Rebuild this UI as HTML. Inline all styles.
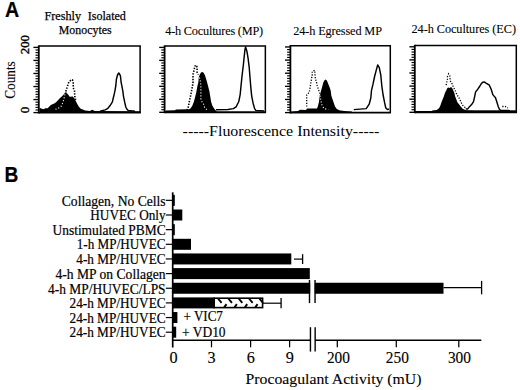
<!DOCTYPE html>
<html><head><meta charset="utf-8"><title>Figure</title>
<style>
html,body{margin:0;padding:0;background:#fff;}
body{width:520px;height:390px;overflow:hidden;font-family:"Liberation Serif",serif;}
svg{display:block;}
</style></head>
<body>
<svg width="520" height="390" viewBox="0 0 520 390">
<rect x="0" y="0" width="520" height="390" fill="#fff"/>
<text x="5" y="16.9" font-size="21.5" text-anchor="start" font-family="'Liberation Sans', sans-serif" font-weight="bold" textLength="14.2" lengthAdjust="spacingAndGlyphs" stroke="#000" stroke-width="0.2">A</text>
<text x="44.4" y="19.6" font-size="13.3" text-anchor="start" font-family="'Liberation Serif', serif" font-weight="normal" textLength="36.6" lengthAdjust="spacingAndGlyphs" stroke="#000" stroke-width="0.25">Freshly</text>
<text x="87.7" y="19.6" font-size="13.3" text-anchor="start" font-family="'Liberation Serif', serif" font-weight="normal" textLength="38.2" lengthAdjust="spacingAndGlyphs" stroke="#000" stroke-width="0.25">Isolated</text>
<text x="58.8" y="33.6" font-size="13.3" text-anchor="start" font-family="'Liberation Serif', serif" font-weight="normal" textLength="52.8" lengthAdjust="spacingAndGlyphs" stroke="#000" stroke-width="0.25">Monocytes</text>
<text x="165.2" y="35.4" font-size="12.3" text-anchor="start" font-family="'Liberation Serif', serif" font-weight="normal" textLength="98" lengthAdjust="spacing" stroke="#000" stroke-width="0.08">4-h Cocultures (MP)</text>
<text x="293.2" y="34.6" font-size="12.3" text-anchor="start" font-family="'Liberation Serif', serif" font-weight="normal" textLength="88.8" lengthAdjust="spacing" stroke="#000" stroke-width="0.08">24-h Egressed MP</text>
<text x="411.5" y="33" font-size="12.3" text-anchor="start" font-family="'Liberation Serif', serif" font-weight="normal" textLength="104.5" lengthAdjust="spacing" stroke="#000" stroke-width="0.08">24-h Cocultures (EC)</text>
<polygon points="39.5,112.5 39.5,107.7 41.8,108.7 43.8,109.2 45.2,108.2 47.6,108.2 49.1,106.75 50.5,105.3 52.4,104.3 54.3,103.4 56.3,102 58.2,100 60.1,98.1 62,96.2 63.5,94.7 64.9,92.8 65.9,91.6 66.8,93.3 68.3,94.7 69.7,96.7 71.2,96.7 72.1,96.2 73.1,97.1 74.5,98.6 76,101.5 77.4,104.3 78.9,106.75 80.8,108.7 82.7,109.6 85.1,110.6 90,110.9 92,109.8 95,110.9 140,111.3 140,112.5" fill="#000"/>
<polyline points="65.8,91.4 64.8,95 63.6,100 62.4,103.5 61.1,106.3 59,107.8 56.75,108.9 54,109.8" fill="none" stroke="#fff" stroke-width="1.1" stroke-dasharray="1.1 1.9"/>
<polyline points="65.8,91.4 66.4,89.4 67.5,86.2 68.2,83.6 69.4,81.4 71,80.1 72.4,79.8 73.2,81.6 73.2,85.3 73.5,88.5 74.5,90.8 74.7,94 74.9,97 75.6,100" fill="none" stroke="#000" stroke-width="1.6" stroke-dasharray="1.4 1.4"/>
<polyline points="100,111.3 105.2,109.9 107.5,108.7 109.9,105.8 112.3,102.2 113.4,97.5 114.4,93.4 115.2,89.3 115.8,85.7 116.4,79.2 117.5,75 118.75,73 119.8,74.5 120.5,76.3 121.1,82.2 122.3,88.1 122.9,91.6 123.5,96.3 124.7,102.2 125.8,107 127,109.3 128.2,110.5 135,111.2" fill="none" stroke="#000" stroke-width="1.45" stroke-linejoin="round"/>
<line x1="38.8" y1="46.1" x2="140.85" y2="46.1" stroke="#000" stroke-width="1.5"/>
<line x1="140.1" y1="46.1" x2="140.1" y2="112.6" stroke="#000" stroke-width="1.5"/>
<line x1="38.8" y1="112.6" x2="140.85" y2="112.6" stroke="#000" stroke-width="1.9"/>
<line x1="38.8" y1="45.4" x2="38.8" y2="113.5" stroke="#000" stroke-width="1.8"/>
<line x1="33.4" y1="47.4" x2="38.8" y2="47.4" stroke="#000" stroke-width="1.35"/>
<line x1="35.5" y1="50.01" x2="38.8" y2="50.01" stroke="#000" stroke-width="1.15"/>
<line x1="35.5" y1="52.62" x2="38.8" y2="52.62" stroke="#000" stroke-width="1.15"/>
<line x1="35.5" y1="55.22" x2="38.8" y2="55.22" stroke="#000" stroke-width="1.15"/>
<line x1="35.5" y1="57.83" x2="38.8" y2="57.83" stroke="#000" stroke-width="1.15"/>
<line x1="33.4" y1="60.44" x2="38.8" y2="60.44" stroke="#000" stroke-width="1.35"/>
<line x1="35.5" y1="63.05" x2="38.8" y2="63.05" stroke="#000" stroke-width="1.15"/>
<line x1="35.5" y1="65.66" x2="38.8" y2="65.66" stroke="#000" stroke-width="1.15"/>
<line x1="35.5" y1="68.26" x2="38.8" y2="68.26" stroke="#000" stroke-width="1.15"/>
<line x1="35.5" y1="70.87" x2="38.8" y2="70.87" stroke="#000" stroke-width="1.15"/>
<line x1="33.4" y1="73.48" x2="38.8" y2="73.48" stroke="#000" stroke-width="1.35"/>
<line x1="35.5" y1="76.09" x2="38.8" y2="76.09" stroke="#000" stroke-width="1.15"/>
<line x1="35.5" y1="78.7" x2="38.8" y2="78.7" stroke="#000" stroke-width="1.15"/>
<line x1="35.5" y1="81.3" x2="38.8" y2="81.3" stroke="#000" stroke-width="1.15"/>
<line x1="35.5" y1="83.91" x2="38.8" y2="83.91" stroke="#000" stroke-width="1.15"/>
<line x1="33.4" y1="86.52" x2="38.8" y2="86.52" stroke="#000" stroke-width="1.35"/>
<line x1="35.5" y1="89.13" x2="38.8" y2="89.13" stroke="#000" stroke-width="1.15"/>
<line x1="35.5" y1="91.74" x2="38.8" y2="91.74" stroke="#000" stroke-width="1.15"/>
<line x1="35.5" y1="94.34" x2="38.8" y2="94.34" stroke="#000" stroke-width="1.15"/>
<line x1="35.5" y1="96.95" x2="38.8" y2="96.95" stroke="#000" stroke-width="1.15"/>
<line x1="33.4" y1="99.56" x2="38.8" y2="99.56" stroke="#000" stroke-width="1.35"/>
<line x1="35.5" y1="102.17" x2="38.8" y2="102.17" stroke="#000" stroke-width="1.15"/>
<line x1="35.5" y1="104.78" x2="38.8" y2="104.78" stroke="#000" stroke-width="1.15"/>
<line x1="35.5" y1="107.38" x2="38.8" y2="107.38" stroke="#000" stroke-width="1.15"/>
<line x1="35.5" y1="109.99" x2="38.8" y2="109.99" stroke="#000" stroke-width="1.15"/>
<line x1="33.4" y1="112.6" x2="38.8" y2="112.6" stroke="#000" stroke-width="1.35"/>
<polygon points="165.5,112.3 165.5,110.6 175,110.3 176,109.4 187,109.2 189,109.2 190.7,108.2 192.3,105.8 193.9,101.7 195.2,96.8 196.4,91.8 197.2,86.9 198.4,82 198.8,77 199.8,74.5 201,72.6 202.3,72.1 203.6,72.8 204.8,75 206,78.5 207,82 208.3,86.9 209.5,91.8 210.3,96.8 211.1,101.7 212.4,105.8 214.4,109 216,110.7 217,112.3" fill="#000"/>
<polyline points="198.4,74.7 199.6,78 200.5,82 200.9,86 200.9,90 200.9,94.3 200.9,99.6 202.1,102 203.8,104.5 204.6,107.4 207.5,110.3" fill="none" stroke="#fff" stroke-width="1.1" stroke-dasharray="1.1 1.9"/>
<polyline points="187,110.3 188.6,106.2 189,103.3 189.8,99.2 190.7,95.1 191.5,91 192.3,86.9 193,83 193,78.9 193,74.5 194,70.5 194.5,68 195.5,65.1 196.8,66.4 197.1,69.3 197.1,72.2 198.4,74.7" fill="none" stroke="#000" stroke-width="1.6" stroke-dasharray="1.4 1.4"/>
<polyline points="216,109.8 228,109.5 233.4,108.6 236.1,106.8 238.8,101.5 240.2,94.3 240.9,87.1 242,76.3 243.3,65.5 244.2,56.6 245,49.4 245.6,46.9 246.9,51.2 248.1,58.4 249.2,67.3 249.9,76.3 250.8,87.1 251.7,96.1 253.1,103.2 254.6,108.6 255.8,110.4 264,111" fill="none" stroke="#000" stroke-width="1.45" stroke-linejoin="round"/>
<line x1="164.6" y1="46.1" x2="266.1" y2="46.1" stroke="#000" stroke-width="1.5"/>
<line x1="265.35" y1="46.1" x2="265.35" y2="112.3" stroke="#000" stroke-width="1.5"/>
<line x1="164.6" y1="112.3" x2="266.1" y2="112.3" stroke="#000" stroke-width="1.9"/>
<line x1="164.6" y1="45.4" x2="164.6" y2="113.2" stroke="#000" stroke-width="1.8"/>
<line x1="159.2" y1="47.4" x2="164.6" y2="47.4" stroke="#000" stroke-width="1.35"/>
<line x1="161.3" y1="50" x2="164.6" y2="50" stroke="#000" stroke-width="1.15"/>
<line x1="161.3" y1="52.59" x2="164.6" y2="52.59" stroke="#000" stroke-width="1.15"/>
<line x1="161.3" y1="55.19" x2="164.6" y2="55.19" stroke="#000" stroke-width="1.15"/>
<line x1="161.3" y1="57.78" x2="164.6" y2="57.78" stroke="#000" stroke-width="1.15"/>
<line x1="159.2" y1="60.38" x2="164.6" y2="60.38" stroke="#000" stroke-width="1.35"/>
<line x1="161.3" y1="62.98" x2="164.6" y2="62.98" stroke="#000" stroke-width="1.15"/>
<line x1="161.3" y1="65.57" x2="164.6" y2="65.57" stroke="#000" stroke-width="1.15"/>
<line x1="161.3" y1="68.17" x2="164.6" y2="68.17" stroke="#000" stroke-width="1.15"/>
<line x1="161.3" y1="70.76" x2="164.6" y2="70.76" stroke="#000" stroke-width="1.15"/>
<line x1="159.2" y1="73.36" x2="164.6" y2="73.36" stroke="#000" stroke-width="1.35"/>
<line x1="161.3" y1="75.96" x2="164.6" y2="75.96" stroke="#000" stroke-width="1.15"/>
<line x1="161.3" y1="78.55" x2="164.6" y2="78.55" stroke="#000" stroke-width="1.15"/>
<line x1="161.3" y1="81.15" x2="164.6" y2="81.15" stroke="#000" stroke-width="1.15"/>
<line x1="161.3" y1="83.74" x2="164.6" y2="83.74" stroke="#000" stroke-width="1.15"/>
<line x1="159.2" y1="86.34" x2="164.6" y2="86.34" stroke="#000" stroke-width="1.35"/>
<line x1="161.3" y1="88.94" x2="164.6" y2="88.94" stroke="#000" stroke-width="1.15"/>
<line x1="161.3" y1="91.53" x2="164.6" y2="91.53" stroke="#000" stroke-width="1.15"/>
<line x1="161.3" y1="94.13" x2="164.6" y2="94.13" stroke="#000" stroke-width="1.15"/>
<line x1="161.3" y1="96.72" x2="164.6" y2="96.72" stroke="#000" stroke-width="1.15"/>
<line x1="159.2" y1="99.32" x2="164.6" y2="99.32" stroke="#000" stroke-width="1.35"/>
<line x1="161.3" y1="101.92" x2="164.6" y2="101.92" stroke="#000" stroke-width="1.15"/>
<line x1="161.3" y1="104.51" x2="164.6" y2="104.51" stroke="#000" stroke-width="1.15"/>
<line x1="161.3" y1="107.11" x2="164.6" y2="107.11" stroke="#000" stroke-width="1.15"/>
<line x1="161.3" y1="109.7" x2="164.6" y2="109.7" stroke="#000" stroke-width="1.15"/>
<line x1="159.2" y1="112.3" x2="164.6" y2="112.3" stroke="#000" stroke-width="1.35"/>
<polygon points="291,112.8 291,111.5 298,111 300,109.7 306,109.9 307,108.5 317,108.5 317.8,106.6 319,101.7 319.6,96.8 320.8,91.8 322.1,86.9 323.3,82.6 324.5,80.2 325.8,79.5 327,80.8 328.2,83.8 329.5,86.9 330.7,90.6 331.3,95.5 332.5,99.2 333.8,102.9 335,106.6 336.8,109.1 339.3,110.3 344.2,110.9 352,111.5 352,112.8" fill="#000"/>
<polyline points="320.2,95.5 320.9,100 321.4,104 323.9,108.5 328.2,109.7" fill="none" stroke="#fff" stroke-width="1.1" stroke-dasharray="1.1 1.9"/>
<polyline points="306.7,106.6 306.7,102.3 306.7,98.6 306.7,94.9 309.2,92.5 309.8,89.4 310.4,85.7 311,82 311.6,78.3 312.2,75.2 312.2,71.5 314.7,70.3 314.9,73.4 315.3,78.3 316.5,82 317.2,85.7 318.4,89.4 319.6,92.5 320.2,95.5" fill="none" stroke="#000" stroke-width="1.3" stroke-dasharray="1.2 1.5"/>
<polyline points="353.8,109.6 366.2,108.6 369.2,104.2 370.8,98 371.5,90.4 373,84.2 374.6,76.5 376.2,70.4 377.7,65 379.2,67.3 380.8,75 381.8,85.8 383.1,95 384.6,102.7 385.8,108 387.7,109.6 388.9,108.8" fill="none" stroke="#000" stroke-width="1.45" stroke-linejoin="round"/>
<line x1="290.4" y1="45.65" x2="391.05" y2="45.65" stroke="#000" stroke-width="1.5"/>
<line x1="390.3" y1="45.65" x2="390.3" y2="112.6" stroke="#000" stroke-width="1.5"/>
<line x1="290.4" y1="112.6" x2="391.05" y2="112.6" stroke="#000" stroke-width="1.9"/>
<line x1="290.4" y1="44.95" x2="290.4" y2="113.5" stroke="#000" stroke-width="1.8"/>
<line x1="285" y1="46.95" x2="290.4" y2="46.95" stroke="#000" stroke-width="1.35"/>
<line x1="287.1" y1="49.58" x2="290.4" y2="49.58" stroke="#000" stroke-width="1.15"/>
<line x1="287.1" y1="52.2" x2="290.4" y2="52.2" stroke="#000" stroke-width="1.15"/>
<line x1="287.1" y1="54.83" x2="290.4" y2="54.83" stroke="#000" stroke-width="1.15"/>
<line x1="287.1" y1="57.45" x2="290.4" y2="57.45" stroke="#000" stroke-width="1.15"/>
<line x1="285" y1="60.08" x2="290.4" y2="60.08" stroke="#000" stroke-width="1.35"/>
<line x1="287.1" y1="62.71" x2="290.4" y2="62.71" stroke="#000" stroke-width="1.15"/>
<line x1="287.1" y1="65.33" x2="290.4" y2="65.33" stroke="#000" stroke-width="1.15"/>
<line x1="287.1" y1="67.96" x2="290.4" y2="67.96" stroke="#000" stroke-width="1.15"/>
<line x1="287.1" y1="70.58" x2="290.4" y2="70.58" stroke="#000" stroke-width="1.15"/>
<line x1="285" y1="73.21" x2="290.4" y2="73.21" stroke="#000" stroke-width="1.35"/>
<line x1="287.1" y1="75.84" x2="290.4" y2="75.84" stroke="#000" stroke-width="1.15"/>
<line x1="287.1" y1="78.46" x2="290.4" y2="78.46" stroke="#000" stroke-width="1.15"/>
<line x1="287.1" y1="81.09" x2="290.4" y2="81.09" stroke="#000" stroke-width="1.15"/>
<line x1="287.1" y1="83.71" x2="290.4" y2="83.71" stroke="#000" stroke-width="1.15"/>
<line x1="285" y1="86.34" x2="290.4" y2="86.34" stroke="#000" stroke-width="1.35"/>
<line x1="287.1" y1="88.97" x2="290.4" y2="88.97" stroke="#000" stroke-width="1.15"/>
<line x1="287.1" y1="91.59" x2="290.4" y2="91.59" stroke="#000" stroke-width="1.15"/>
<line x1="287.1" y1="94.22" x2="290.4" y2="94.22" stroke="#000" stroke-width="1.15"/>
<line x1="287.1" y1="96.84" x2="290.4" y2="96.84" stroke="#000" stroke-width="1.15"/>
<line x1="285" y1="99.47" x2="290.4" y2="99.47" stroke="#000" stroke-width="1.35"/>
<line x1="287.1" y1="102.1" x2="290.4" y2="102.1" stroke="#000" stroke-width="1.15"/>
<line x1="287.1" y1="104.72" x2="290.4" y2="104.72" stroke="#000" stroke-width="1.15"/>
<line x1="287.1" y1="107.35" x2="290.4" y2="107.35" stroke="#000" stroke-width="1.15"/>
<line x1="287.1" y1="109.97" x2="290.4" y2="109.97" stroke="#000" stroke-width="1.15"/>
<line x1="285" y1="112.6" x2="290.4" y2="112.6" stroke="#000" stroke-width="1.35"/>
<polygon points="415.5,112.3 415.5,111 432.1,110.9 432.1,110.5 436.8,109.9 439.2,108.1 440.3,105.7 441.5,102.2 442.7,99.3 443.9,96.3 445,92.8 446.2,90.4 447.4,88 448.6,87.5 449.8,88 450.9,86.9 452.1,88 453.3,90.4 454.5,93.4 455.1,96.3 456.3,99.3 457.4,102.2 459.2,104.6 460.4,106.3 462.7,108.7 466.3,110.5 475,111 475,112.3" fill="#000"/>
<rect x="462" y="110.3" width="54.3" height="2" fill="#000"/>
<polyline points="446.2,85.1 446.8,82.2 447.4,79.8 447.4,76.8 448.6,73.9 449.8,75.7 450,78 450.4,81 452.1,83.9 453.3,86.9 455.1,90.4 456.3,93.4 458,96.3 459.8,99.3 461,102.2 462.7,105.1 465.1,107.5 466.9,108.7" fill="none" stroke="#000" stroke-width="1.3" stroke-dasharray="1.2 1.5"/>
<polyline points="502.3,106.5 505.1,106.5 508,108" fill="none" stroke="#000" stroke-width="1.3" stroke-dasharray="1.2 1.5"/>
<polyline points="465.6,108.9 467.5,109.1 469.7,106.4 471.8,104.3 473.5,101.6 474.5,97.3 475.6,91.9 477.8,89.2 479.9,86 481.5,83.3 483,82.2 484.2,81.9 486.4,83.3 489.1,84.9 491.2,89.2 492.8,94.6 495.5,97.8 497.1,102.7 498.2,106.4 499.3,109.1 500.5,110.2 510,110.6" fill="none" stroke="#000" stroke-width="1.45" stroke-linejoin="round"/>
<line x1="414.8" y1="45.5" x2="517.05" y2="45.5" stroke="#000" stroke-width="1.5"/>
<line x1="516.3" y1="45.5" x2="516.3" y2="112.3" stroke="#000" stroke-width="1.5"/>
<line x1="414.8" y1="112.3" x2="517.05" y2="112.3" stroke="#000" stroke-width="1.9"/>
<line x1="414.8" y1="44.8" x2="414.8" y2="113.2" stroke="#000" stroke-width="1.8"/>
<line x1="409.4" y1="46.8" x2="414.8" y2="46.8" stroke="#000" stroke-width="1.35"/>
<line x1="411.5" y1="49.42" x2="414.8" y2="49.42" stroke="#000" stroke-width="1.15"/>
<line x1="411.5" y1="52.04" x2="414.8" y2="52.04" stroke="#000" stroke-width="1.15"/>
<line x1="411.5" y1="54.66" x2="414.8" y2="54.66" stroke="#000" stroke-width="1.15"/>
<line x1="411.5" y1="57.28" x2="414.8" y2="57.28" stroke="#000" stroke-width="1.15"/>
<line x1="409.4" y1="59.9" x2="414.8" y2="59.9" stroke="#000" stroke-width="1.35"/>
<line x1="411.5" y1="62.52" x2="414.8" y2="62.52" stroke="#000" stroke-width="1.15"/>
<line x1="411.5" y1="65.14" x2="414.8" y2="65.14" stroke="#000" stroke-width="1.15"/>
<line x1="411.5" y1="67.76" x2="414.8" y2="67.76" stroke="#000" stroke-width="1.15"/>
<line x1="411.5" y1="70.38" x2="414.8" y2="70.38" stroke="#000" stroke-width="1.15"/>
<line x1="409.4" y1="73" x2="414.8" y2="73" stroke="#000" stroke-width="1.35"/>
<line x1="411.5" y1="75.62" x2="414.8" y2="75.62" stroke="#000" stroke-width="1.15"/>
<line x1="411.5" y1="78.24" x2="414.8" y2="78.24" stroke="#000" stroke-width="1.15"/>
<line x1="411.5" y1="80.86" x2="414.8" y2="80.86" stroke="#000" stroke-width="1.15"/>
<line x1="411.5" y1="83.48" x2="414.8" y2="83.48" stroke="#000" stroke-width="1.15"/>
<line x1="409.4" y1="86.1" x2="414.8" y2="86.1" stroke="#000" stroke-width="1.35"/>
<line x1="411.5" y1="88.72" x2="414.8" y2="88.72" stroke="#000" stroke-width="1.15"/>
<line x1="411.5" y1="91.34" x2="414.8" y2="91.34" stroke="#000" stroke-width="1.15"/>
<line x1="411.5" y1="93.96" x2="414.8" y2="93.96" stroke="#000" stroke-width="1.15"/>
<line x1="411.5" y1="96.58" x2="414.8" y2="96.58" stroke="#000" stroke-width="1.15"/>
<line x1="409.4" y1="99.2" x2="414.8" y2="99.2" stroke="#000" stroke-width="1.35"/>
<line x1="411.5" y1="101.82" x2="414.8" y2="101.82" stroke="#000" stroke-width="1.15"/>
<line x1="411.5" y1="104.44" x2="414.8" y2="104.44" stroke="#000" stroke-width="1.15"/>
<line x1="411.5" y1="107.06" x2="414.8" y2="107.06" stroke="#000" stroke-width="1.15"/>
<line x1="411.5" y1="109.68" x2="414.8" y2="109.68" stroke="#000" stroke-width="1.15"/>
<line x1="409.4" y1="112.3" x2="414.8" y2="112.3" stroke="#000" stroke-width="1.35"/>
<text x="0" y="0" font-size="14.2" text-anchor="middle" font-family="'Liberation Serif', serif" font-weight="normal" textLength="37.4" lengthAdjust="spacingAndGlyphs" transform="translate(14.5,80) rotate(-90)" stroke="#000" stroke-width="0.1">Counts</text>
<text x="0" y="0" font-size="13" text-anchor="middle" font-family="'Liberation Serif', serif" font-weight="normal" textLength="19.2" lengthAdjust="spacingAndGlyphs" transform="translate(29.2,44.6) rotate(-90)" stroke="#000" stroke-width="0.35">200</text>
<text x="0" y="0" font-size="13" text-anchor="middle" font-family="'Liberation Serif', serif" font-weight="normal" transform="translate(28.6,110) rotate(-90)" stroke="#000" stroke-width="0.35">0</text>
<text x="182.6" y="135.8" font-size="14.3" text-anchor="start" font-family="'Liberation Serif', serif" font-weight="normal" textLength="196.8" lengthAdjust="spacingAndGlyphs" stroke="#000" stroke-width="0.02">-----Fluorescence Intensity-----</text>
<text x="4.4" y="182.4" font-size="21.9" text-anchor="start" font-family="'Liberation Sans', sans-serif" font-weight="bold" textLength="13.8" lengthAdjust="spacingAndGlyphs" stroke="#000" stroke-width="0.2">B</text>
<text x="61.8" y="205.5" font-size="14.2" text-anchor="start" font-family="'Liberation Serif', serif" font-weight="normal" textLength="103.8" lengthAdjust="spacingAndGlyphs" stroke="#000" stroke-width="0.2">Collagen, No Cells</text>
<line x1="165.8" y1="200.35" x2="172.7" y2="200.35" stroke="#000" stroke-width="1.2"/>
<text x="90.3" y="220" font-size="14.2" text-anchor="start" font-family="'Liberation Serif', serif" font-weight="normal" textLength="75.3" lengthAdjust="spacingAndGlyphs" stroke="#000" stroke-width="0.2">HUVEC Only</text>
<line x1="165.8" y1="215" x2="172.7" y2="215" stroke="#000" stroke-width="1.2"/>
<text x="52.5" y="234.7" font-size="14.2" text-anchor="start" font-family="'Liberation Serif', serif" font-weight="normal" textLength="113.1" lengthAdjust="spacingAndGlyphs" stroke="#000" stroke-width="0.2">Unstimulated PBMC</text>
<line x1="165.8" y1="229.65" x2="172.7" y2="229.65" stroke="#000" stroke-width="1.2"/>
<text x="76.8" y="249.2" font-size="14.2" text-anchor="start" font-family="'Liberation Serif', serif" font-weight="normal" textLength="88.8" lengthAdjust="spacingAndGlyphs" stroke="#000" stroke-width="0.2">1-h MP/HUVEC</text>
<line x1="165.8" y1="244.3" x2="172.7" y2="244.3" stroke="#000" stroke-width="1.2"/>
<text x="76.3" y="264.4" font-size="14.2" text-anchor="start" font-family="'Liberation Serif', serif" font-weight="normal" textLength="89.3" lengthAdjust="spacingAndGlyphs" stroke="#000" stroke-width="0.2">4-h MP/HUVEC</text>
<line x1="165.8" y1="258.95" x2="172.7" y2="258.95" stroke="#000" stroke-width="1.2"/>
<text x="55.5" y="279.3" font-size="14.2" text-anchor="start" font-family="'Liberation Serif', serif" font-weight="normal" textLength="110.1" lengthAdjust="spacingAndGlyphs" stroke="#000" stroke-width="0.2">4-h MP on Collagen</text>
<line x1="165.8" y1="273.6" x2="172.7" y2="273.6" stroke="#000" stroke-width="1.2"/>
<text x="48" y="293.7" font-size="14.2" text-anchor="start" font-family="'Liberation Serif', serif" font-weight="normal" textLength="117.6" lengthAdjust="spacingAndGlyphs" stroke="#000" stroke-width="0.2">4-h MP/HUVEC/LPS</text>
<line x1="165.8" y1="288.25" x2="172.7" y2="288.25" stroke="#000" stroke-width="1.2"/>
<text x="69.5" y="308.2" font-size="14.2" text-anchor="start" font-family="'Liberation Serif', serif" font-weight="normal" textLength="96.1" lengthAdjust="spacingAndGlyphs" stroke="#000" stroke-width="0.2">24-h MP/HUVEC</text>
<line x1="165.8" y1="302.9" x2="172.7" y2="302.9" stroke="#000" stroke-width="1.2"/>
<text x="69.5" y="322.5" font-size="14.2" text-anchor="start" font-family="'Liberation Serif', serif" font-weight="normal" textLength="96.1" lengthAdjust="spacingAndGlyphs" stroke="#000" stroke-width="0.2">24-h MP/HUVEC</text>
<line x1="165.8" y1="317.55" x2="172.7" y2="317.55" stroke="#000" stroke-width="1.2"/>
<text x="69.5" y="337" font-size="14.2" text-anchor="start" font-family="'Liberation Serif', serif" font-weight="normal" textLength="96.1" lengthAdjust="spacingAndGlyphs" stroke="#000" stroke-width="0.2">24-h MP/HUVEC</text>
<line x1="165.8" y1="332.2" x2="172.7" y2="332.2" stroke="#000" stroke-width="1.2"/>
<rect x="172.7" y="194.85" width="2.1" height="11" fill="#000"/>
<rect x="172.7" y="209.5" width="9.6" height="11" fill="#000"/>
<rect x="172.7" y="224.15" width="2.1" height="11" fill="#000"/>
<rect x="172.7" y="238.8" width="18.3" height="11" fill="#000"/>
<rect x="172.7" y="253.45" width="118.6" height="11" fill="#000"/>
<rect x="172.7" y="268.1" width="137.1" height="11" fill="#000"/>
<rect x="172.7" y="282.75" width="137.5" height="11" fill="#000"/>
<rect x="314.8" y="282.75" width="128.7" height="11" fill="#000"/>
<rect x="172.7" y="297.4" width="42" height="11" fill="#000"/>
<rect x="172.7" y="312.05" width="4.7" height="11" fill="#000"/>
<rect x="172.7" y="326.7" width="3.5" height="11" fill="#000"/>
<rect x="214.2" y="298.2" width="48.4" height="9.4" fill="#fff" stroke="#000" stroke-width="1.6"/>
<line x1="218" y1="298.5" x2="221.6" y2="302.8" stroke="#000" stroke-width="1.9"/>
<line x1="226.5" y1="304.1" x2="224.2" y2="307.4" stroke="#000" stroke-width="1.9"/>
<line x1="228.35" y1="298.5" x2="231.95" y2="302.8" stroke="#000" stroke-width="1.9"/>
<line x1="236.85" y1="304.1" x2="234.55" y2="307.4" stroke="#000" stroke-width="1.9"/>
<line x1="238.7" y1="298.5" x2="242.3" y2="302.8" stroke="#000" stroke-width="1.9"/>
<line x1="247.2" y1="304.1" x2="244.9" y2="307.4" stroke="#000" stroke-width="1.9"/>
<line x1="249.05" y1="298.5" x2="252.65" y2="302.8" stroke="#000" stroke-width="1.9"/>
<line x1="257.55" y1="304.1" x2="255.25" y2="307.4" stroke="#000" stroke-width="1.9"/>
<line x1="259.4" y1="298.5" x2="263" y2="302.8" stroke="#000" stroke-width="1.9"/>
<line x1="294" y1="259.1" x2="302.6" y2="259.1" stroke="#000" stroke-width="1.2"/>
<line x1="302.6" y1="254.2" x2="302.6" y2="264" stroke="#000" stroke-width="1.3"/>
<line x1="443.5" y1="287.6" x2="481.6" y2="287.6" stroke="#000" stroke-width="1.2"/>
<line x1="481.6" y1="280.9" x2="481.6" y2="294.3" stroke="#000" stroke-width="1.3"/>
<line x1="262.6" y1="303.2" x2="281.1" y2="303.2" stroke="#000" stroke-width="1.2"/>
<line x1="281.1" y1="298.1" x2="281.1" y2="308.3" stroke="#000" stroke-width="1.3"/>
<line x1="172.7" y1="192.3" x2="172.7" y2="347.5" stroke="#000" stroke-width="1.7"/>
<line x1="172.7" y1="340.25" x2="310.3" y2="340.25" stroke="#000" stroke-width="1.7"/>
<line x1="315" y1="340.25" x2="481.3" y2="340.25" stroke="#000" stroke-width="1.7"/>
<line x1="309.5" y1="280" x2="309.5" y2="303.1" stroke="#000" stroke-width="1.4"/>
<line x1="315.05" y1="280" x2="315.05" y2="303.1" stroke="#000" stroke-width="1.4"/>
<line x1="310.45" y1="327.2" x2="310.45" y2="351.6" stroke="#000" stroke-width="1.4"/>
<line x1="315.15" y1="327.2" x2="315.15" y2="351.6" stroke="#000" stroke-width="1.4"/>
<line x1="211.5" y1="340" x2="211.5" y2="347.3" stroke="#000" stroke-width="1.25"/>
<line x1="250.6" y1="340" x2="250.6" y2="347.3" stroke="#000" stroke-width="1.25"/>
<line x1="289.6" y1="340" x2="289.6" y2="347.3" stroke="#000" stroke-width="1.25"/>
<line x1="337.3" y1="340" x2="337.3" y2="347.3" stroke="#000" stroke-width="1.25"/>
<line x1="396.3" y1="340" x2="396.3" y2="347.3" stroke="#000" stroke-width="1.25"/>
<line x1="458.8" y1="340" x2="458.8" y2="347.3" stroke="#000" stroke-width="1.25"/>
<text x="173.6" y="363.4" font-size="16.2" text-anchor="middle" font-family="'Liberation Serif', serif" font-weight="normal" stroke="#000" stroke-width="0.12">0</text>
<text x="211.6" y="363.4" font-size="16.2" text-anchor="middle" font-family="'Liberation Serif', serif" font-weight="normal" stroke="#000" stroke-width="0.12">3</text>
<text x="250.7" y="363.4" font-size="16.2" text-anchor="middle" font-family="'Liberation Serif', serif" font-weight="normal" stroke="#000" stroke-width="0.12">6</text>
<text x="289.8" y="363.4" font-size="16.2" text-anchor="middle" font-family="'Liberation Serif', serif" font-weight="normal" stroke="#000" stroke-width="0.12">9</text>
<text x="338.4" y="363.4" font-size="16.2" text-anchor="middle" font-family="'Liberation Serif', serif" font-weight="normal" textLength="23" lengthAdjust="spacingAndGlyphs" stroke="#000" stroke-width="0.12">200</text>
<text x="397.3" y="363.4" font-size="16.2" text-anchor="middle" font-family="'Liberation Serif', serif" font-weight="normal" textLength="23" lengthAdjust="spacingAndGlyphs" stroke="#000" stroke-width="0.12">250</text>
<text x="459.4" y="363.4" font-size="16.2" text-anchor="middle" font-family="'Liberation Serif', serif" font-weight="normal" textLength="23" lengthAdjust="spacingAndGlyphs" stroke="#000" stroke-width="0.12">300</text>
<text x="245.5" y="383.8" font-size="15.6" text-anchor="start" font-family="'Liberation Serif', serif" font-weight="normal" textLength="176" lengthAdjust="spacingAndGlyphs" stroke="#000" stroke-width="0.1">Procoagulant Activity (mU)</text>
<text x="183.5" y="320.6" font-size="14.2" text-anchor="start" font-family="'Liberation Serif', serif" font-weight="normal" textLength="39.4" lengthAdjust="spacingAndGlyphs" stroke="#000" stroke-width="0.2">+ VIC7</text>
<text x="182" y="337" font-size="14.2" text-anchor="start" font-family="'Liberation Serif', serif" font-weight="normal" textLength="43.6" lengthAdjust="spacingAndGlyphs" stroke="#000" stroke-width="0.2">+ VD10</text>
</svg>
</body></html>
